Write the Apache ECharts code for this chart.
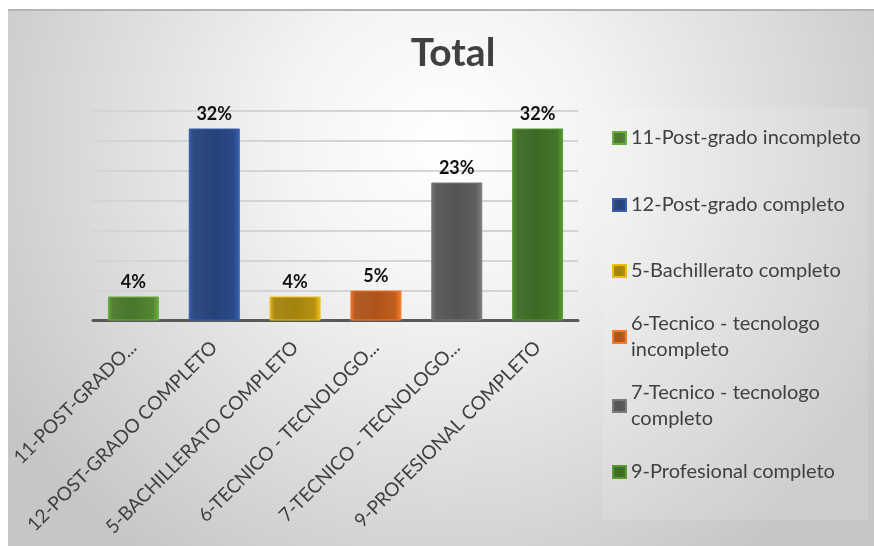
<!DOCTYPE html>
<html>
<head>
<meta charset="utf-8">
<script src="https://cdn.jsdelivr.net/npm/echarts@6/dist/echarts.min.js"></script>
<style>
  html, body { margin: 0; padding: 0; background: #ffffff; }
  #chart { width: 874px; height: 546px; }
</style>
</head>
<body>
<div id="chart"></div>
<script>
// Education level shares (percent)
const categories = [
  '11-Post-grado incompleto',
  '12-Post-grado completo',
  '5-Bachillerato completo',
  '6-Tecnico - tecnologo incompleto',
  '7-Tecnico - tecnologo completo',
  '9-Profesional completo'
];
const tickLabels = [
  '11-POST-GRADO...',
  '12-POST-GRADO COMPLETO',
  '5-BACHILLERATO COMPLETO',
  '6-TECNICO - TECNOLOGO...',
  '7-TECNICO - TECNOLOGO...',
  '9-PROFESIONAL COMPLETO'
];
const values = [4, 32, 4, 5, 23, 32];
const colors = ['#4a772c', '#26427a', '#a3830f', '#ad541b', '#555555', '#3d6925'];
const legendTops = [125, 192, 258, 298, 367, 459];

const FONT = 'Lato, "Open Sans", sans-serif';

function bevel(base) {
  return new echarts.graphic.LinearGradient(0, 0, 1, 0, [
    { offset: 0, color: echarts.color.lift(base, -0.4) },
    { offset: 0.1, color: echarts.color.lift(base, 0.05) },
    { offset: 0.5, color: base },
    { offset: 0.88, color: echarts.color.lift(base, -0.12) },
    { offset: 1, color: echarts.color.lift(base, -0.5) }
  ]);
}

// One series per category so each gets its own legend entry
const series = categories.map((name, i) => ({
  name: name,
  type: 'bar',
  stack: 'total',
  barWidth: 51,
  data: values.map((v, j) => (j === i ? v : '-')),
  itemStyle: {
    color: bevel(colors[i]),
    borderColor: echarts.color.lift(colors[i], -0.45),
    borderWidth: 1
  },
  label: {
    show: true,
    position: 'top',
    distance: 5,
    formatter: '{c}%',
    color: '#111111',
    fontFamily: FONT,
    fontWeight: 'bold',
    fontSize: 18
  }
}));

const twoLine = { 3: ['6-Tecnico - tecnologo', 'incompleto'], 4: ['7-Tecnico - tecnologo', 'completo'] };

const legends = categories.map((name, i) => ({
  data: [name],
  left: 612,
  top: legendTops[i],
  padding: 0,
  icon: 'rect',
  itemWidth: 13,
  itemHeight: 12,
  selectedMode: false,
  formatter: n => (twoLine[i] ? twoLine[i].join('\n') : n),
  textStyle: {
    color: '#404040',
    fontFamily: FONT,
    fontSize: 20,
    lineHeight: 26,
    padding: twoLine[i] ? [26, 0, 0, 0] : 0
  }
}));

const chart = echarts.init(document.getElementById('chart'));
chart.setOption({
  backgroundColor: '#ffffff',
  animation: false,
  graphic: [
    {
      type: 'rect',
      z: -10,
      silent: true,
      shape: { x: 8, y: 9, width: 866, height: 537 },
      style: {
        fill: new echarts.graphic.RadialGradient(0.5, 0.25, 0.95, [
          { offset: 0, color: '#ffffff' },
          { offset: 0.3, color: '#f4f4f4' },
          { offset: 0.7, color: '#dadada' },
          { offset: 1, color: '#c6c6c6' }
        ])
      }
    },
    {
      type: 'rect',
      z: -9,
      silent: true,
      shape: { x: 603, y: 108, width: 265, height: 412 },
      style: { fill: 'rgba(255,255,255,0.12)' }
    },
    {
      type: 'line',
      z: -8,
      silent: true,
      shape: { x1: 8, y1: 10, x2: 874, y2: 10 },
      style: { stroke: '#b4b4b4', lineWidth: 2 }
    }
  ],
  title: {
    text: 'Total',
    left: 448,
    top: 29,
    textAlign: 'center',
    textStyle: {
      color: '#404040',
      fontFamily: FONT,
      fontWeight: 'bold',
      fontSize: 39
    }
  },
  legend: legends,
  grid: {
    left: 93,
    right: 296,
    top: 110.5,
    bottom: 225.5,
    containLabel: false
  },
  xAxis: {
    type: 'category',
    data: tickLabels,
    axisLine: { show: true, lineStyle: { color: '#595959', width: 3 } },
    axisTick: { show: false },
    axisLabel: {
      interval: 0,
      rotate: 45,
      margin: 24,
      color: '#404040',
      fontFamily: FONT,
      fontSize: 19
    }
  },
  yAxis: {
    type: 'value',
    min: 0,
    max: 35,
    interval: 5,
    axisLabel: { show: false },
    axisLine: { show: false },
    axisTick: { show: false },
    splitLine: { lineStyle: { color: '#d4d4d4', width: 2 } }
  },
  series: series
});
</script>
</body>
</html>
